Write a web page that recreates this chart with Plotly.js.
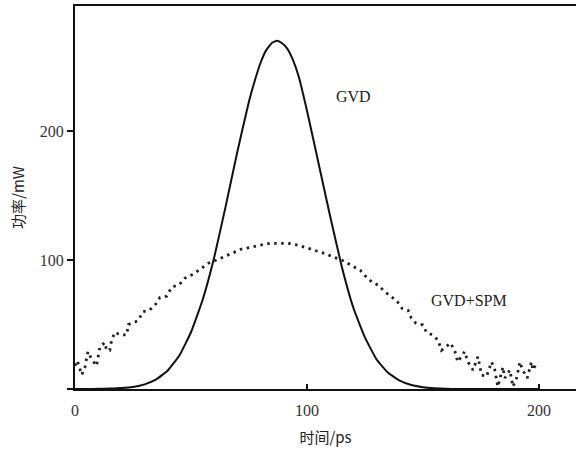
<!DOCTYPE html>
<html>
<head>
<meta charset="utf-8">
<script src="https://cdn.plot.ly/plotly-3.0.1.min.js"></script>
<style>html,body{margin:0;padding:0;background:#fff;}#chart{width:576px;height:450px;}</style>
</head>
<body>
<div id="chart"></div>
<script>
// GVD only (solid)
const gvdX = [0,5,10,15,20,25,30,35,40,45,50,55,60,65,70,75,77.5,80,82.5,85,87,89,91.5,94,96.5,100,105,110,115,120,125,130,135,140,145,150,155,160,165,170,180,190,200];
const gvdY = [0,0,0.1,0.3,0.7,1.6,3.6,7.4,14.4,26,44,69,102,142,184,223,239,253,263,268.5,270,268.5,264,255,242,216,175,134,95,63,40,23,12.6,6.5,3.1,1.4,0.6,0.2,0,0,0,0,0];

// GVD + SPM (dotted, noisy)
const spmX = [0,1,2.9,4.3,5.6,7.2,9.3,10,10.8,12.9,13.6,15,15.8,17.2,19.4,22.3,23,25.9,27.2,29.4,32,34.5,36.6,39.5,41.7,45,47.4,51,54.6,57.5,61,64.7,68,71.8,76,79.7,84,88.4,91.9,96,99.8,104,107.8,111,115,119,123,125,128,130.6,133.6,136.5,139,141,143.6,145,147,150,151.5,154,156.5,158,160.8,162,163.8,165,168,169.4,171.6,173.7,175.3,177.4,179.6,181,182.3,184.5,185.3,187.5,188.8,190.4,191.8,193,195,196.8,197.4,199];
const spmY = [18,22,11,17,29,23,18,25,33,36,30,30,38,44,42,42,50,52,53,60,61,65,71,72,79,81,86,89,94,97.5,100,103,106,108.5,110,111.6,113,113,113,111.6,109.5,107.7,105,102.6,100,96,92,88,83,80.6,75.4,71.5,67.7,62.5,61,55,51,49.6,44,42,38,30,34,35.6,29,21,29,21,14.7,25,10.9,9.6,21,14.7,1.8,17,8.5,14.7,1.8,8.5,21,14.7,8.5,21,14.7,20];

const xTickVals = [0,100,200];
const xTickText = ['0','100','200'];
const yTickVals = [0,100,200];
const yTickText = ['','100','200'];

const serif = 'Liberation Serif';
const cjk = 'Noto Sans CJK SC';

const traces = [
  {x: gvdX, y: gvdY, mode: 'lines', line: {color: '#111', width: 2, shape: 'spline', smoothing: 0.4}, name: 'GVD', cliponaxis: false},
  {x: spmX, y: spmY, mode: 'lines', line: {color: '#222', width: 2.8, dash: '2.5px,4.5px'}, name: 'GVD+SPM', cliponaxis: false}
];

const layout = {
  width: 576, height: 450,
  margin: {l: 75, r: 0, t: 6, b: 61},
  paper_bgcolor: '#fff', plot_bgcolor: '#fff',
  showlegend: false,
  font: {family: serif},
  xaxis: {
    range: [0, 216], showgrid: false, zeroline: false,
    showline: true, linecolor: '#111', linewidth: 2, mirror: true,
    ticks: 'inside', ticklen: 5, tickwidth: 1.5, tickcolor: '#111',
    ticklabelstandoff: 6,
    tickvals: xTickVals, ticktext: xTickText,
    tickfont: {family: serif, size: 16, color: '#333'},
    title: {text: '时间/ps', font: {family: cjk, size: 15, color: '#222'}, standoff: 14}
  },
  yaxis: {
    range: [0, 297], showgrid: false, zeroline: false,
    showline: true, linecolor: '#111', linewidth: 2, mirror: false,
    ticks: 'outside', ticklen: 6, tickwidth: 1.5, tickcolor: '#111',
    tickvals: yTickVals, ticktext: yTickText,
    tickfont: {family: serif, size: 16, color: '#333'},
    title: {text: '功率/mW', font: {family: cjk, size: 15, color: '#222'}, standoff: 12}
  },
  annotations: [
    {x: 120, y: 227, xref: 'x', yref: 'y', text: 'GVD', showarrow: false, font: {family: serif, size: 16, color: '#222'}},
    {x: 170, y: 69, xref: 'x', yref: 'y', text: 'GVD+SPM', showarrow: false, font: {family: serif, size: 16, color: '#222'}}
  ]
};

Plotly.newPlot('chart', traces, layout, {displayModeBar: false, staticPlot: true});
</script>
</body>
</html>
